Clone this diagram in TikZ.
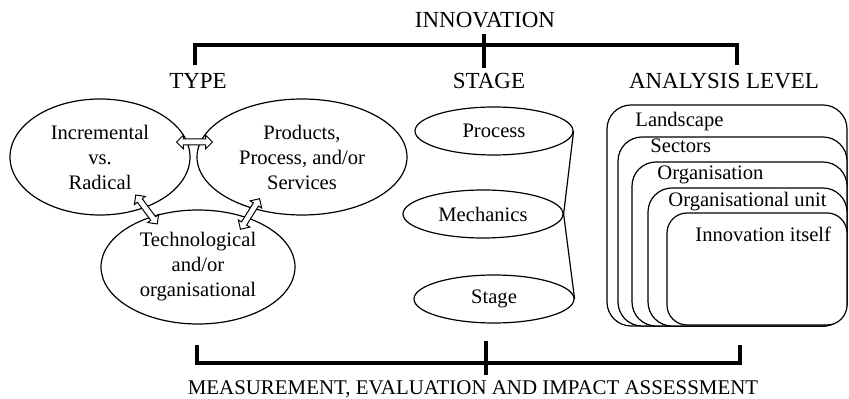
\documentclass[tikz,border=0pt]{standalone}
\usepackage{fontspec}
\setmainfont{Liberation Serif}
\usetikzlibrary{shapes.geometric,shapes.arrows}

\begin{document}
\begin{tikzpicture}[
      x=0.5pt, y=-0.5pt,
      oval/.style={draw,ellipse,line width=0.6pt,inner sep=0pt,align=center,
        font=\fontsize{10.3}{12.5}\selectfont},
      stageoval/.style={oval,minimum width=79pt,minimum height=24pt},
      levelbox/.style={draw,fill=white,line width=0.6pt,rounded corners=12pt},
      leveltext/.style={anchor=base west,inner sep=0pt,font=\fontsize{10.3}{12.5}\selectfont},
      header/.style={anchor=base,inner sep=0pt,font=\fontsize{11.5}{13}\selectfont},
      bracket/.style={line width=2.2pt},
      dblarrow/.style={double arrow,draw,fill=white,line width=0.5pt,inner sep=0pt,
        inner ysep=1.25pt,double arrow head extend=1.9pt,minimum height=18pt}
    ]
    \useasboundingbox (0,0) rectangle (849,399);

    % headers
    \node[header] (innov) at (485,28) {INNOVATION};
    \node[header] (type) at (198,89) {TYPE};
    \node[header] (stage) at (489,89) {STAGE};
    \node[header] (level) at (724,89) {ANALYSIS LEVEL};
    \node[header,font=\fontsize{10.45}{13}\selectfont] (meas) at (473,395)
      {MEASUREMENT, EVALUATION AND IMPACT ASSESSMENT};

    % brackets
    \coordinate (tl) at (195,65);
    \coordinate (tr) at (737,65);
    \coordinate (tm) at (484,34);
    \coordinate (bl) at (197,345);
    \coordinate (br) at (740,345);
    \coordinate (bm) at (486,341);
    \draw[bracket] (tl) |- (tr |- 0,45) -- (tr);
    \draw[bracket] (tm) -- (484,68);
    \draw[bracket] (bl) |- (br |- 0,363) -- (br);
    \draw[bracket] (bm) -- (486,375);

    % type
    \node[oval,minimum width=90pt,minimum height=58pt] (inc) at (100,157)
      {Incremental\\vs.\\Radical};
    \node[oval,minimum width=105pt,minimum height=58pt] (prod) at (302,157)
      {Products,\\Process, and/or\\Services};
    \node[oval,minimum width=97pt,minimum height=57pt] (tech) at (198,267)
      {Technological\\and/or\\organisational};
    \coordinate (a1s) at (177,142);
    \coordinate (a1e) at (212,142);
    \coordinate (a2s) at (135,194);
    \coordinate (a2e) at (158,225);
    \coordinate (a3s) at (260,198);
    \coordinate (a3e) at (240,230);
    \path (a1s) -- node[dblarrow,sloped] (arr1) {} (a1e);
    \path (a2s) -- node[dblarrow,sloped] (arr2) {} (a2e);
    \path (a3s) -- node[dblarrow,sloped] (arr3) {} (a3e);

    % stage
    \node[stageoval] (proc) at (494,131) {Process};
    \node[stageoval,minimum width=80pt] (mech) at (483,214) {Mechanics};
    \node[stageoval,minimum width=80pt] (stg) at (494,299) {Stage};
    \draw[line width=0.6pt] (proc.east) -- (mech.east) -- (stg.east);

    % analysis level
    \draw[levelbox] (607,105) rectangle (847,326);
    \draw[levelbox] (618,137) rectangle (847,326);
    \draw[levelbox] (632,162) rectangle (847,326);
    \draw[levelbox] (648,188) rectangle (847,326);
    \draw[levelbox,rounded corners=10pt] (667,213) rectangle (847,325);
    \node[leveltext] (land) at (635,127) {Landscape};
    \node[leveltext] (sect) at (650,153) {Sectors};
    \node[leveltext] (org) at (657,180) {Organisation};
    \node[leveltext] (unit) at (668,207) {Organisational unit};
    \node[leveltext] (itself) at (695,242) {Innovation itself};
\end{tikzpicture}
\end{document}
